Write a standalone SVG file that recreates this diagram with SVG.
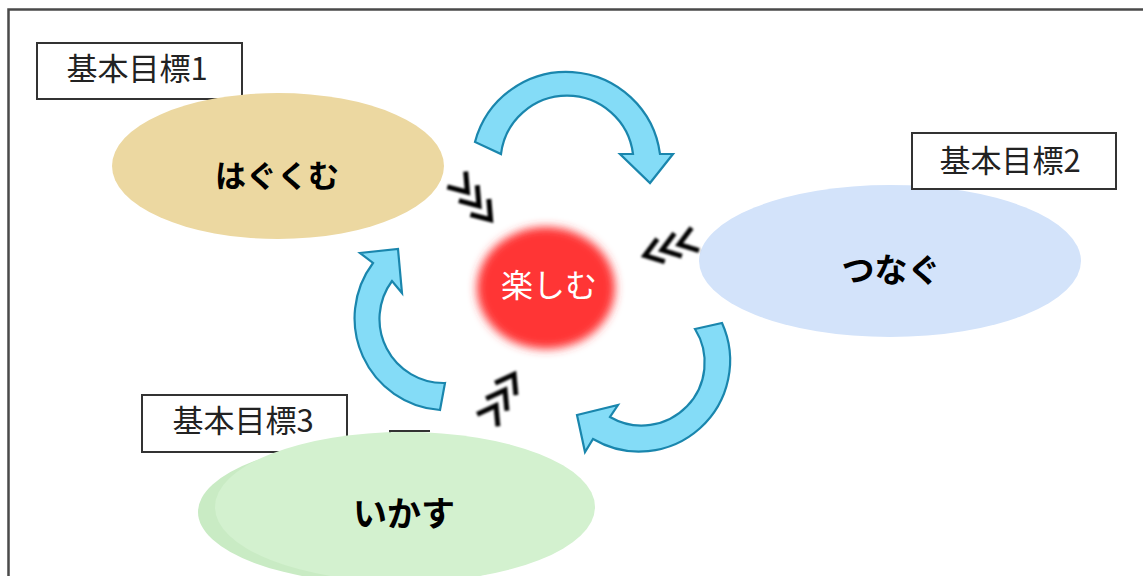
<svg xmlns="http://www.w3.org/2000/svg" width="1143" height="576" viewBox="0 0 1143 576">
<style>
.frame{fill:none;stroke:#4a4a4a;stroke-width:2.5}
.lbl rect{fill:#fff;stroke:#333;stroke-width:2}
.lbl text{font-family:"Noto Sans CJK JP","Noto Sans",sans-serif;font-size:31px;fill:#222;text-anchor:middle}
.big{font-family:"Noto Sans CJK JP","Noto Sans",sans-serif;font-weight:bold;fill:#000;text-anchor:middle}
.carrow{fill:#84dcf7;stroke:#1a86ad;stroke-width:2.2;stroke-linejoin:miter}
.chev{fill:none;stroke:#000;stroke-width:5;stroke-linejoin:miter}
</style>
<defs>
<filter id="blur" x="-30%" y="-30%" width="160%" height="160%"><feGaussianBlur stdDeviation="5"/></filter>
<filter id="sblur" x="-30%" y="-30%" width="160%" height="160%"><feGaussianBlur stdDeviation="1"/></filter>
<g id="chevs">
<polyline points="-35,-12 -18,0 -35,12"/>
<polyline points="-17,-12 0,0 -17,12"/>
<polyline points="1,-12 18,0 1,12"/>
</g>
</defs>
<rect width="1143" height="576" fill="#fff"/>
<path class="frame" d="M8.5,600 V9.5 H1150"/>

<g id="label1" class="lbl"><rect x="37" y="43" width="205" height="56"/><text x="137" y="80">基本目標1</text></g>
<g id="label3" class="lbl"><rect x="142" y="395" width="205" height="57"/><text x="243" y="432">基本目標3</text></g>
<path d="M390,440 V431 H430" fill="none" stroke="#333" stroke-width="2"/>

<g id="hagukumu">
<ellipse cx="278" cy="166" rx="166" ry="73" fill="#ecd8a1"/>
<text class="big" x="277" y="187" font-size="31">はぐくむ</text>
</g>
<g id="tsunagu">
<ellipse cx="890" cy="261" rx="191" ry="76" fill="#d3e3fa"/>
<text class="big" x="891" y="282" font-size="33">つなぐ</text>
</g>
<g id="label2" class="lbl"><rect x="912" y="133" width="204" height="56"/><text x="1010" y="172">基本目標2</text></g>
<g id="ikasu">
<ellipse cx="390" cy="512" rx="192" ry="72" fill="#c9ebc4"/>
<ellipse cx="405" cy="507" rx="190" ry="75" fill="#d3f1cf"/>
<text class="big" x="404" y="526" font-size="34">いかす</text>
</g>
<g id="tanoshimu">
<ellipse cx="546" cy="288" rx="69" ry="61" fill="#ff3535" filter="url(#blur)"/>
<text x="549" y="297" font-family="'Noto Sans CJK JP','Noto Sans',sans-serif" font-size="32" fill="#fff" text-anchor="middle">楽しむ</text>
</g>

<g id="connectors">
<path class="carrow" d="M475,142 A94.5,94.5 0 0 1 660,154 L673,154 L650,183 L620,154 L633,154 A66.5,66.5 0 0 0 501,154 Z"/>
<path class="carrow" d="M695,329 L722,323 A91,91 0 0 1 593,439 L585,452 L577,415 L618,405 L610,417 A63,63 0 0 0 695,329 Z"/>
<path class="carrow" d="M440,410 A92,92 0 0 1 373,263 L360,253 L398,249 L402,293 L392,281 A64,64 0 0 0 445,383 Z"/>
<g class="chev" filter="url(#sblur)">
<use href="#chevs" transform="translate(479,206) rotate(50)"/>
<use href="#chevs" transform="translate(662,250) rotate(162)"/>
<use href="#chevs" transform="translate(505,390) rotate(-60)"/>
</g>
</g>
</svg>
